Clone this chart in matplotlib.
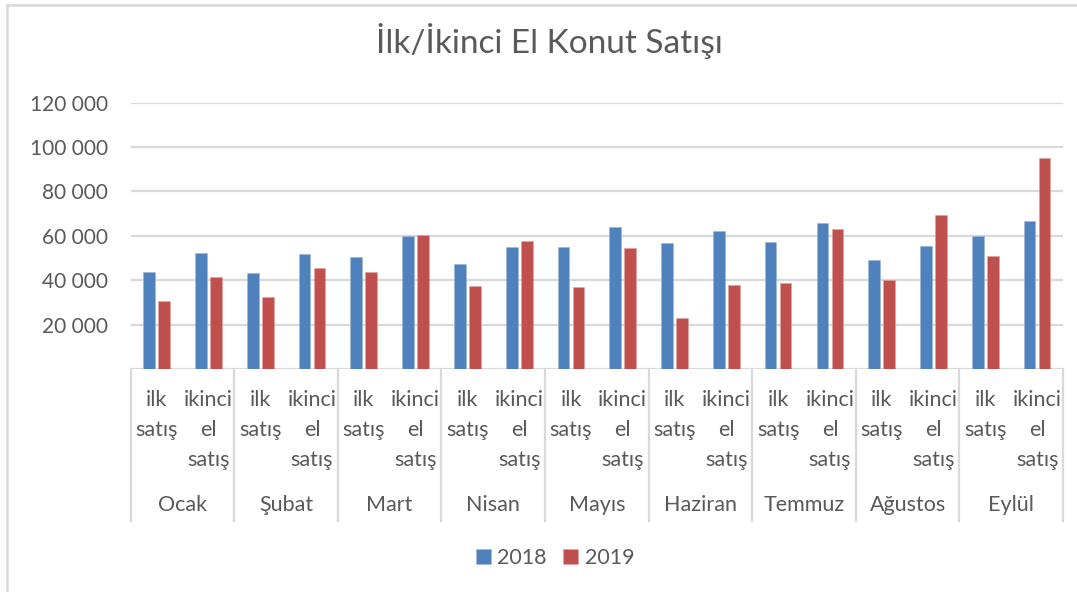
import numpy as np
import matplotlib.pyplot as plt
from matplotlib.lines import Line2D
import matplotlib.transforms as mtransforms

plt.rcParams['font.family'] = ['Lato', 'DejaVu Sans']

# data
months = ['Ocak', 'Şubat', 'Mart', 'Nisan', 'Mayıs', 'Haziran', 'Temmuz', 'Ağustos', 'Eylül']
sub_labels = [['ilk', 'satış'], ['ikinci', 'el', 'satış']]
series_names = ['2018', '2019']
# order: ilk, ikinci for each month
y2018 = [43800, 52200, 43400, 51800, 50400, 59900, 47100, 55200, 55200,
         63800, 56600, 62000, 57300, 65900, 48900, 55400, 59900, 66800]
y2019 = [30600, 41400, 32300, 45300, 43800, 60600, 37400, 57900, 36800,
         54300, 22800, 37700, 38600, 62900, 40200, 69600, 51000, 95300]
yticks = [20000, 40000, 60000, 80000, 100000, 120000]

blue = '#4F81BD'
red = '#C0504D'
txt = '#595959'
grid = '#D9D9D9'

W, H = 1077, 592
fig = plt.figure(figsize=(W / 100, H / 100), dpi=100)
# plot area in pixels: x 130.7..1063, y 102.7..369
ax = fig.add_axes([130.7 / W, 1 - 369 / H, (1063 - 130.7) / W, (369 - 102.7) / H])
ax.set_frame_on(False)

x = np.arange(len(y2018))
bw = 0.226
off = 0.145
ax.bar(x - off, y2018, bw, color=blue, edgecolor='#9DB7DA', linewidth=0.4, zorder=3, label=series_names[0])
ax.bar(x + off, y2019, bw, color=red, edgecolor='#E0A3A1', linewidth=0.4, zorder=3, label=series_names[1])

ax.set_xlim(-0.5, len(x) - 0.5)
ax.set_ylim(0, 120000)
ax.set_yticks(yticks)
ax.set_yticklabels([f'{v:,}'.replace(',', ' ') for v in yticks])
ax.tick_params(axis='y', length=0, pad=16.3, labelsize=15, labelcolor=txt)
ax.set_xticks([])
ax.grid(axis='y', color=grid, linewidth=1.6, zorder=0)
ax.axhline(0, color=grid, linewidth=1.6, zorder=2)

# multi level category axis
tr = mtransforms.blended_transform_factory(ax.transData, ax.transAxes)
ph = 369 - 102.7
line_y = [-31 / ph, -61 / ph, -91 / ph]
for i in range(len(x)):
    for j, word in enumerate(sub_labels[i % 2]):
        ax.text(x[i], line_y[j], word, transform=tr, ha='center', va='center',
                fontsize=15.5, color=txt)
for m, name in enumerate(months):
    ax.text(2 * m + 0.5, -136 / ph, name, transform=tr, ha='center', va='center',
            fontsize=15.5, color=txt)
for b in range(len(months) + 1):
    ax.plot([2 * b - 0.5, 2 * b - 0.5], [0, -152 / ph], transform=tr, color=grid,
            linewidth=1.6, clip_on=False)

fig.text(549 / W, 1 - 53 / H, 'İlk/İkinci El Konut Satışı', ha='center', va='baseline',
         fontsize=24, color=txt)

leg = fig.legend(loc='center', bbox_to_anchor=(555 / W, 1 - 558 / H), ncol=2, frameon=False,
                 fontsize=15.5, handlelength=0.7, handleheight=0.7, handletextpad=0.3,
                 columnspacing=0.75)
for t in leg.get_texts():
    t.set_color(txt)

# chart border (left and top only visible)
bx, by = 6.5 / W, 1 - 4.5 / H
fig.add_artist(Line2D([bx, bx], [0, by], transform=fig.transFigure, color=grid, linewidth=1.8))
fig.add_artist(Line2D([bx, 1], [by, by], transform=fig.transFigure, color=grid, linewidth=1.8))

fig.savefig('out.png', dpi=100)
